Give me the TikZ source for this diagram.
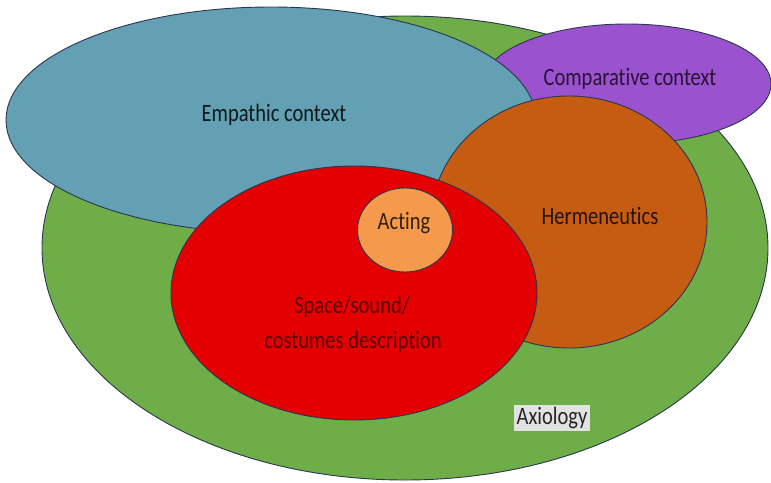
\documentclass[tikz,border=0pt]{standalone}
\usepackage{fontspec}
\setmainfont{Carlito}[FakeStretch=0.82, Ligatures=NoCommon]
\usetikzlibrary{shapes.geometric}
\definecolor{cgreen}{HTML}{6EAD48}
\definecolor{cblue}{HTML}{64A0B3}
\definecolor{cpurple}{HTML}{9A52CE}
\definecolor{cbrown}{HTML}{C65B12}
\definecolor{cred}{HTML}{E40000}
\definecolor{corange}{HTML}{F59A4C}
\definecolor{cline}{HTML}{2B3650}
\definecolor{cgray}{HTML}{E2E2E2}
\tikzset{
  set/.style={ellipse, draw=cline, line width=0.9pt, inner sep=0pt},
  lab/.style={font=\fontsize{25}{30}\selectfont, align=center}
}
\begin{document}
\begin{tikzpicture}[x=1pt,y=-1pt]
\useasboundingbox (0,0) rectangle (771,482);
\node[set, fill=cgreen, minimum width=726pt, minimum height=464pt] (green) at (405,248) {};
\node[set, fill=cpurple, minimum width=288pt, minimum height=120pt] (purple) at (627,84) {};
\node[set, fill=cblue, minimum width=530pt, minimum height=226pt] (blue) at (271,120) {};
\node[set, fill=cbrown, minimum width=276pt, minimum height=252pt] (brown) at (569,222) {};
\node[set, fill=cred, minimum width=366pt, minimum height=254pt] (red) at (354,293) {};
\node[set, fill=corange, minimum width=95pt, minimum height=84pt] (acting) at (405,230) {};
\node[lab, text=cblue!15!black] (tblue) at (274,115) {Empathic context};
\node[lab, text=cpurple!25!black] (tpurple) at (630,79) {Comparative context};
\node[lab, text=cbrown!20!black] (tbrown) at (600,216) {Hermeneutics};
\node[lab, text=corange!20!black] (tacting) at (404,223) {Acting};
\node[lab, text=cred!40!black] (tred1) at (352,307) {Space/sound/};
\node[lab, text=cred!40!black] (tred2) at (353,342) {costumes description};
\node[lab, text=black!85, fill=cgray, inner xsep=3pt, inner ysep=2pt] (tgreen) at (552,418) {Axiology};
\end{tikzpicture}
\end{document}
